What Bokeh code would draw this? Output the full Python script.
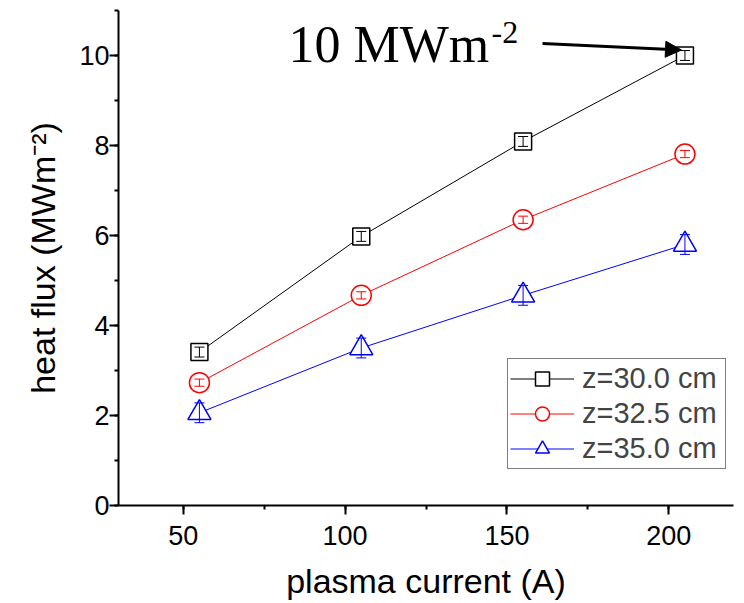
import math
from bokeh.plotting import figure
from bokeh.models import (Legend, LegendItem, Label, Arrow, NormalHead,
                          SingleIntervalTicker, Range1d)
from bokeh.embed import file_html
from bokeh.resources import INLINE

# ---- data ----
current = [55, 105, 155, 205]
flux_z300 = [3.41, 5.98, 8.09, 10.0]
flux_z325 = [2.73, 4.67, 6.35, 7.81]
flux_z350 = [2.06, 3.50, 4.67, 5.80]
err_z300 = [0.11, 0.11, 0.11, 0.11]
err_z325 = [0.08, 0.08, 0.08, 0.08]
err_z350 = [0.22, 0.22, 0.22, 0.22]
series_labels = ["z=30.0 cm", "z=32.5 cm", "z=35.0 cm"]

# ---- layout geometry (pixels) ----
W, H = 744, 603
FL, FR, FT, FB = 118, 733, 10, 505
X0, X1, Y0, Y1 = 30, 220, 0, 11


def px2x(px):
    return X0 + (px - FL) * (X1 - X0) / (FR - FL)


def px2y(py):
    return Y0 + (FB - py) * (Y1 - Y0) / (FB - FT)


FONT = "Liberation Sans"
SERIF = "Liberation Serif"

p = figure(width=W, height=H, x_range=Range1d(X0, X1), y_range=Range1d(Y0, Y1),
           output_backend="svg", toolbar_location=None,
           min_border_left=FL, min_border_right=W - FR,
           min_border_top=FT, min_border_bottom=H - FB)
p.outline_line_color = None
p.xgrid.visible = False
p.ygrid.visible = False

p.xaxis.ticker = SingleIntervalTicker(interval=50, num_minor_ticks=2)
p.yaxis.ticker = SingleIntervalTicker(interval=2, num_minor_ticks=2)
for ax in (p.xaxis[0], p.yaxis[0]):
    ax.axis_line_width = 2
    ax.axis_line_color = "black"
    ax.major_tick_line_width = 2
    ax.minor_tick_line_width = 2
    ax.major_tick_line_color = "black"
    ax.minor_tick_line_color = "black"
    ax.major_tick_in = 0
    ax.major_tick_out = 9
    ax.minor_tick_in = 0
    ax.minor_tick_out = 4
    ax.major_label_text_font = FONT
    ax.major_label_text_font_size = "27px"
    ax.major_label_text_color = "black"
    ax.axis_label_text_font = FONT
    ax.axis_label_text_font_size = "34px"
    ax.axis_label_text_font_style = "normal"
    ax.axis_label_text_color = "black"

p.xaxis.axis_label = "plasma current (A)"
p.yaxis.axis_label = "heat flux (MWm\u207b\u00b2)"
p.xaxis.major_label_standoff = 11
p.xaxis.axis_label_standoff = 14
p.yaxis.major_label_standoff = 0
p.yaxis.axis_label_standoff = 14

styles = [
    ("black", "square", 17),
    ("red", "circle", 20),
    ("blue", "triangle", 23),
]
fluxes = [flux_z300, flux_z325, flux_z350]
errs = [err_z300, err_z325, err_z350]

items = []
for lab, ys, es, (col, mk, sz) in zip(series_labels, fluxes, errs, styles):
    lr = p.line(current, ys, line_color=col, line_width=1)
    mr = p.scatter(current, ys, marker=mk, size=sz, line_color=col,
                   fill_color="white", line_width=1.5)
    lo = [y - e for y, e in zip(ys, es)]
    hi = [y + e for y, e in zip(ys, es)]
    p.segment(current, lo, current, hi, line_color=col, line_width=1)
    p.scatter(current, lo, marker="dash", size=10, line_color=col, line_width=1)
    p.scatter(current, hi, marker="dash", size=10, line_color=col, line_width=1)
    items.append(LegendItem(label=lab, renderers=[lr, mr]))

legend = Legend(items=items, location=(507 - FL, FB - 469),
                glyph_width=64, glyph_height=35, spacing=0, padding=2,
                margin=0, label_standoff=8, label_width=141,
                label_text_font=FONT, label_text_font_size="29px",
                border_line_color="black", border_line_width=1,
                background_fill_color="white", background_fill_alpha=1)
p.add_layout(legend, "center")


def mid_y(baseline_px, size_px):
    # text box middle sits this far above the alphabetic baseline
    return px2y(baseline_px - 0.3375 * size_px)


# annotation "10 MWm-2" with arrow
p.add_layout(Label(x=px2x(288), y=mid_y(62, 52), text="10 MWm",
                   text_font=SERIF, text_font_size="52px",
                   text_align="left", text_baseline="middle", text_color="black"))
p.add_layout(Label(x=px2x(491), y=mid_y(43, 32), text="-2",
                   text_font=SERIF, text_font_size="32px",
                   text_align="left", text_baseline="middle", text_color="black"))
p.add_layout(Arrow(x_start=px2x(542), y_start=px2y(43), x_end=px2x(681), y_end=px2y(49.5),
                   line_width=3, line_color="black",
                   end=NormalHead(size=16, fill_color="black", line_color="black")))

open("out.html", "w").write(file_html(p, INLINE))
